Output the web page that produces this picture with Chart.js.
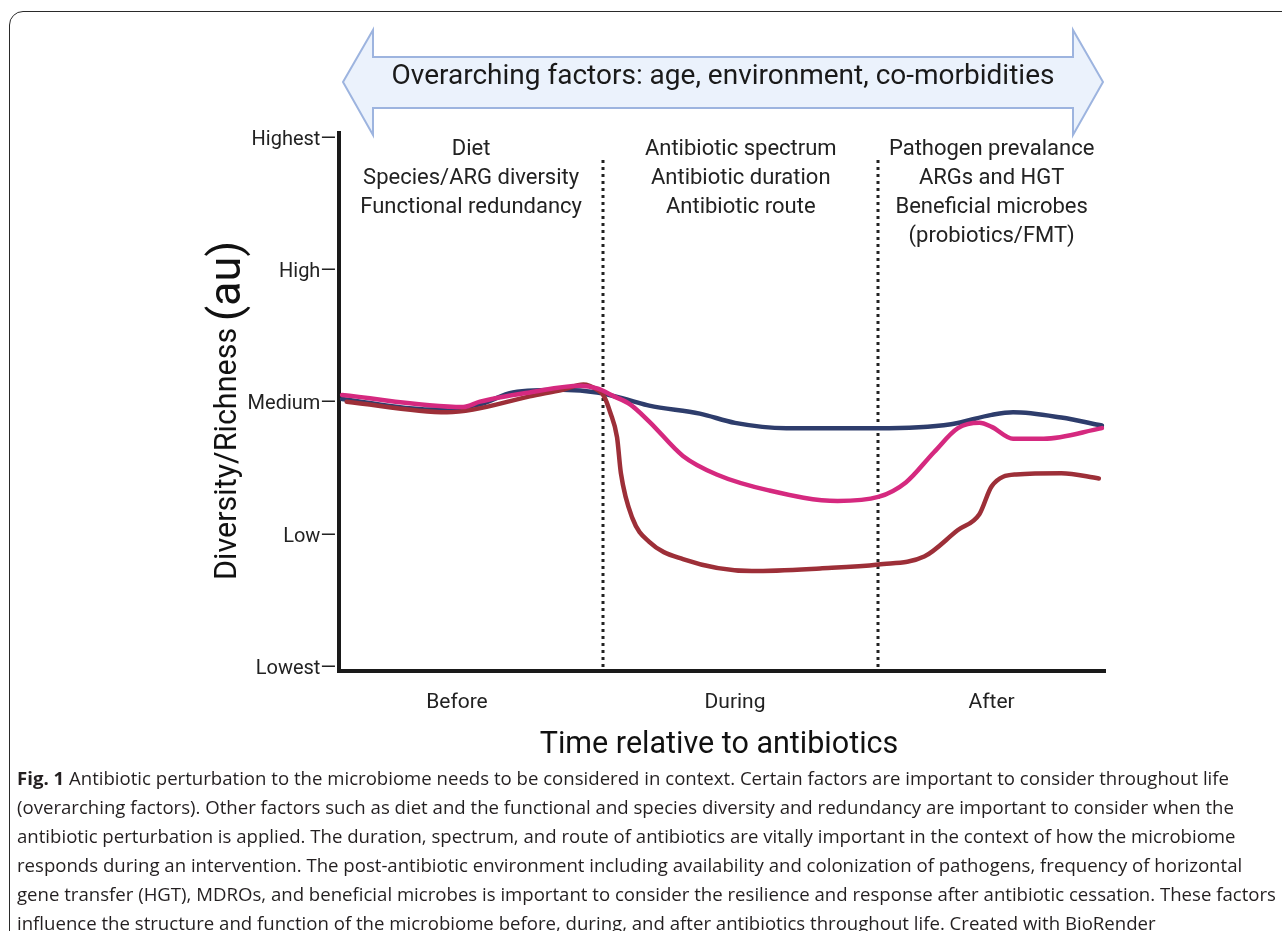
<!DOCTYPE html>
<html>
<head>
<meta charset="utf-8">
<script src="https://cdn.jsdelivr.net/npm/chart.js@4/dist/chart.umd.min.js"></script>
<style>
  body { margin: 0; background: #fff; width: 1282px; height: 931px; overflow: hidden; position: relative; }
  #frame { position: absolute; left: 9px; top: 11px; width: 1320px; height: 1000px;
           border: 1.6px solid #2a2a2a; border-radius: 14px; }
  #chart { position: absolute; left: 0; top: 0; }
  #caption { position: absolute; left: 17px; top: 763px; font-family: "Open Sans", sans-serif;
             font-size: 18.6px; line-height: 29px; color: #231f20; white-space: nowrap; }
</style>
</head>
<body>
<div id="frame"></div>
<canvas id="chart" width="1282" height="931"></canvas>
<div id="caption">
  <b>Fig. 1</b> Antibiotic perturbation to the microbiome needs to be considered in context. Certain factors are important to consider throughout life<br>
  (overarching factors). Other factors such as diet and the functional and species diversity and redundancy are important to consider when the<br>
  antibiotic perturbation is applied. The duration, spectrum, and route of antibiotics are vitally important in the context of how the microbiome<br>
  responds during an intervention. The post-antibiotic environment including availability and colonization of pathogens, frequency of horizontal<br>
  gene transfer (HGT), MDROs, and beneficial microbes is important to consider the resilience and response after antibiotic cessation. These factors<br>
  influence the structure and function of the microbiome before, during, and after antibiotics throughout life. Created with BioRender
</div>
<script>
// phases along the time axis (0-100)
const phaseLabels = ["Before", "During", "After"];
const phaseTicks = [15.4, 51.7, 85.2];
const phaseBounds = [0, 34.5, 70.4, 100];
const phaseFactors = [
  ["Diet", "Species/ARG diversity", "Functional redundancy"],
  ["Antibiotic spectrum", "Antibiotic duration", "Antibiotic route"],
  ["Pathogen prevalance", "ARGs and HGT", "Beneficial microbes", "(probiotics/FMT)"],
];
const levelLabels = ["Lowest", "Low", "Medium", "High", "Highest"];
const bannerText = "Overarching factors: age, environment, co-morbidities";

// curves (time, level)
const navyTime = [0.4, 11.9, 18.4, 22.7, 29.2, 33.7, 38.0, 40.5, 47.1, 51.7, 58.4, 70.4, 79.9, 85.2, 88.0, 94.3, 99.6];
const navyLevel = [2.04, 1.96, 2.0, 2.09, 2.11, 2.09, 2.03, 1.99, 1.93, 1.86, 1.82, 1.82, 1.85, 1.92, 1.94, 1.9, 1.84];

const pinkTime = [0.4, 16.2, 18.4, 24.9, 31.5, 33.7, 35.9, 38.0, 40.5, 44.9, 49.3, 56.1, 65.1, 70.4, 74.0, 77.7, 80.8, 83.6, 85.2, 88.0, 92.0, 99.6];
const pinkLevel = [2.07, 1.98, 2.02, 2.09, 2.14, 2.12, 2.06, 2.0, 1.87, 1.61, 1.47, 1.35, 1.27, 1.3, 1.41, 1.64, 1.82, 1.86, 1.83, 1.74, 1.74, 1.82];

const redTime = [1.0, 14.1, 17.5, 24.9, 29.2, 31.9, 33.7, 34.6, 35.4, 36.3, 36.8, 38.3, 40.5, 44.9, 53.9, 62.8, 70.4, 76.4, 80.8, 83.6, 85.2, 88.4, 94.3, 99.2];
const redLevel = [2.02, 1.94, 1.96, 2.06, 2.11, 2.15, 2.11, 2.06, 1.94, 1.75, 1.48, 1.14, 0.96, 0.83, 0.74, 0.76, 0.79, 0.85, 1.05, 1.17, 1.38, 1.47, 1.48, 1.44];

function toPoints(ts, ys) {
  return ts.map((t, i) => ({ x: t, y: ys[i] }));
}

const decorations = {
  id: "decorations",
  beforeDatasetsDraw(chart) {
    const { ctx, chartArea } = chart;
    const x = chart.scales.x;
    // dotted phase boundaries
    ctx.save();
    ctx.strokeStyle = "#222";
    ctx.lineWidth = 3;
    ctx.setLineDash([3, 4]);
    [phaseBounds[1], phaseBounds[2]].forEach((b) => {
      const px = Math.round(x.getPixelForValue(b));
      ctx.beginPath();
      ctx.moveTo(px, chartArea.top + 27);
      ctx.lineTo(px, chartArea.bottom - 3);
      ctx.stroke();
    });
    ctx.restore();
  },
  afterDraw(chart) {
    const { ctx, chartArea } = chart;
    const x = chart.scales.x;
    ctx.save();

    // factor lists at the top of each phase
    ctx.fillStyle = "#222";
    ctx.font = "22px Roboto";
    ctx.textAlign = "center";
    ctx.textBaseline = "middle";
    phaseFactors.forEach((lines, i) => {
      const cx = x.getPixelForValue((phaseBounds[i] + phaseBounds[i + 1]) / 2);
      lines.forEach((s, j) => ctx.fillText(s, cx, chartArea.top + 16 + j * 29.3));
    });

    // double-headed banner arrow
    const l = chartArea.left + 4, r = chartArea.right - 2;
    const cy = 82, head = 30;
    ctx.beginPath();
    ctx.moveTo(l, cy);
    ctx.lineTo(l + head, cy - 52);
    ctx.lineTo(l + head, cy - 25);
    ctx.lineTo(r - head, cy - 25);
    ctx.lineTo(r - head, cy - 52);
    ctx.lineTo(r, cy);
    ctx.lineTo(r - head, cy + 53);
    ctx.lineTo(r - head, cy + 26);
    ctx.lineTo(l + head, cy + 26);
    ctx.lineTo(l + head, cy + 53);
    ctx.closePath();
    ctx.fillStyle = "#ebf2fc";
    ctx.fill();
    ctx.strokeStyle = "#9db4df";
    ctx.lineWidth = 2;
    ctx.stroke();
    ctx.fillStyle = "#1a1a1a";
    ctx.font = "28px Roboto";
    ctx.fillText(bannerText, (l + r) / 2, cy - 5, 674);

    // x axis title
    ctx.font = "30.5px Roboto";
    ctx.fillStyle = "#111";
    ctx.fillText("Time relative to antibiotics", 719, 745);

    // y axis title, "(au)" larger
    ctx.translate(236, 580);
    ctx.rotate(-Math.PI / 2);
    ctx.textAlign = "left";
    ctx.textBaseline = "alphabetic";
    ctx.font = "30.5px Roboto";
    const main = "Diversity/Richness ";
    ctx.fillText(main, 0, 0);
    const w = ctx.measureText(main).width;
    ctx.font = "45px Roboto";
    ctx.fillText("(au)", w - 1, 4);
    ctx.restore();
  },
};

const ctx = document.getElementById("chart").getContext("2d");
new Chart(ctx, {
  type: "line",
  data: {
    datasets: [
      { data: toPoints(navyTime, navyLevel), borderColor: "#2e3d6c", order: 3 },
      { data: toPoints(redTime, redLevel), borderColor: "#9d2f38", order: 2 },
      { data: toPoints(pinkTime, pinkLevel), borderColor: "#d5297f", order: 1 },
    ],
  },
  options: {
    responsive: false,
    animation: false,
    devicePixelRatio: 1,
    layout: { padding: { left: 8, top: 133, right: 177, bottom: 0 } },
    elements: {
      point: { radius: 0 },
      line: { borderWidth: 4.5, cubicInterpolationMode: "monotone", borderCapStyle: "round" },
    },
    plugins: { legend: { display: false }, tooltip: { enabled: false } },
    scales: {
      x: {
        type: "linear",
        min: 0,
        max: 100,
        afterFit: (s) => { s.height = 260; },
        afterBuildTicks: (s) => { s.ticks = phaseTicks.map((v) => ({ value: v })); },
        ticks: {
          callback: (v) => phaseLabels[phaseTicks.indexOf(v)],
          font: { family: "Roboto", size: 21 },
          color: "#222",
          padding: 19,
          maxRotation: 0,
        },
        grid: { display: false, drawTicks: false },
        border: { display: true, color: "#1a1a1a", width: 4 },
      },
      y: {
        min: -0.015,
        max: 4.05,
        afterFit: (s) => { s.width = 331; },
        afterBuildTicks: (s) => { s.ticks = levelLabels.map((_, i) => ({ value: i })); },
        ticks: {
          callback: (v) => levelLabels[v] + "\u2014",
          font: { family: "Roboto", size: 20 },
          color: "#222",
          padding: 3,
        },
        grid: { display: false, drawTicks: false },
        border: { display: true, color: "#1a1a1a", width: 4 },
      },
    },
  },
  plugins: [decorations],
});
</script>
</body>
</html>
